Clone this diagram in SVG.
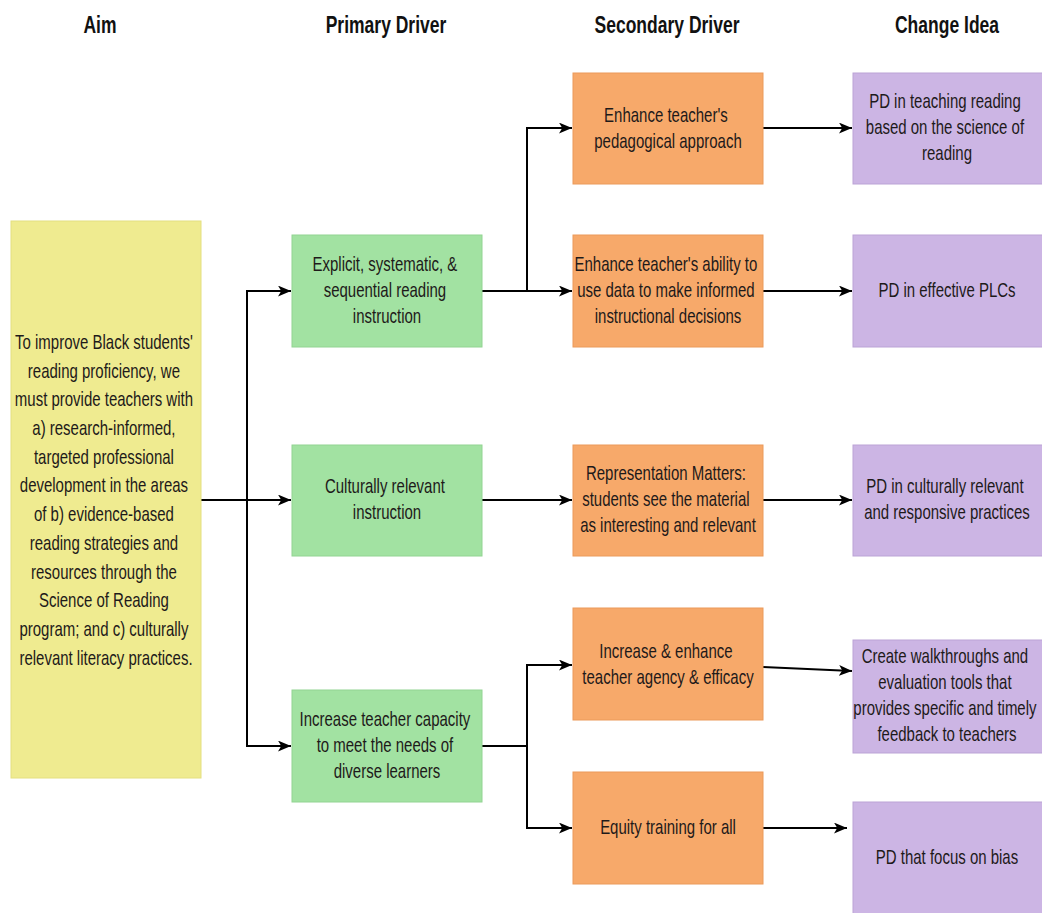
<svg xmlns="http://www.w3.org/2000/svg" width="1042" height="913" viewBox="0 0 1042 913">
  <style>
    .hdr { font-family: "Liberation Sans", Arial, sans-serif; font-size: 23.5px; font-weight: bold; fill: #111; text-anchor: middle; }
    .t { font-family: "Liberation Sans", Arial, sans-serif; font-size: 20px; fill: #1e1a1a; text-anchor: middle; }
    .aim { fill: #efeb90; stroke: #e4df80; stroke-width: 1; }
    .pri { fill: #a2e2a2; stroke: #92d492; stroke-width: 1; }
    .sec { fill: #f7a96a; stroke: #eb9a5b; stroke-width: 1; }
    .chg { fill: #ccb5e4; stroke: #bba3d6; stroke-width: 1; }
    .conn { fill: none; stroke: #000; stroke-width: 2; }
  </style>
  <defs>
    <marker id="arrow" viewBox="0 0 12 10" refX="12" refY="5" markerWidth="13" markerHeight="11" markerUnits="userSpaceOnUse" orient="auto">
      <path d="M0,0 L12,5 L0,10 L3,5 z" fill="#000"/>
    </marker>
  </defs>
  <rect width="1042" height="913" fill="#fff"/>

  <!-- column headings (condensed lettering) -->
  <g id="headings">
    <text class="hdr" transform="translate(100,0) scale(0.745,1)" x="0" y="33">Aim</text>
    <text class="hdr" transform="translate(386,0) scale(0.745,1)" x="0" y="33">Primary Driver</text>
    <text class="hdr" transform="translate(667,0) scale(0.745,1)" x="0" y="33">Secondary Driver</text>
    <text class="hdr" transform="translate(947,0) scale(0.745,1)" x="0" y="33">Change Idea</text>
  </g>

  <!-- connectors -->
  <g id="connectors">
    <path class="conn" d="M201,500 H291" marker-end="url(#arrow)"/>
    <path class="conn" d="M247,500 V291 H291" marker-end="url(#arrow)"/>
    <path class="conn" d="M247,500 V746 H291" marker-end="url(#arrow)"/>

    <path class="conn" d="M482,291 H572" marker-end="url(#arrow)"/>
    <path class="conn" d="M527,291 V128 H572" marker-end="url(#arrow)"/>
    <path class="conn" d="M482,500 H572" marker-end="url(#arrow)"/>
    <path class="conn" d="M482,746 H527 V665 H572" marker-end="url(#arrow)"/>
    <path class="conn" d="M527,746 V828 H572" marker-end="url(#arrow)"/>

    <path class="conn" d="M763,128 H852" marker-end="url(#arrow)"/>
    <path class="conn" d="M763,291 H852" marker-end="url(#arrow)"/>
    <path class="conn" d="M763,500 H852" marker-end="url(#arrow)"/>
    <path class="conn" d="M763,667 L852,671" marker-end="url(#arrow)"/>
    <path class="conn" d="M763,828 H847" marker-end="url(#arrow)"/>
  </g>

  <!-- aim -->
  <g id="aim">
    <rect class="aim" x="11" y="221" width="190" height="557"/>
    <text class="t" transform="translate(106,0) scale(0.75,1)">
      <tspan x="0" y="349">To improve Black students'</tspan>
      <tspan x="0" y="377.7">reading proficiency, we</tspan>
      <tspan x="0" y="406.4">must provide teachers with</tspan>
      <tspan x="0" y="435.1">a) research-informed,</tspan>
      <tspan x="0" y="463.8">targeted professional</tspan>
      <tspan x="0" y="492.5">development in the areas</tspan>
      <tspan x="0" y="521.2">of b) evidence-based</tspan>
      <tspan x="0" y="549.9">reading strategies and</tspan>
      <tspan x="0" y="578.6">resources through the</tspan>
      <tspan x="0" y="607.3">Science of Reading</tspan>
      <tspan x="0" y="636">program; and c) culturally</tspan>
      <tspan x="0" y="664.7">relevant literacy practices.</tspan>
    </text>
  </g>

  <!-- primary drivers -->
  <g id="primary-1">
    <rect class="pri" x="292" y="235" width="190" height="112"/>
    <text class="t" transform="translate(387,0) scale(0.75,1)">
      <tspan x="0" y="271">Explicit, systematic, &amp;</tspan>
      <tspan x="0" y="297">sequential reading</tspan>
      <tspan x="0" y="323">instruction</tspan>
    </text>
  </g>
  <g id="primary-2">
    <rect class="pri" x="292" y="445" width="190" height="111"/>
    <text class="t" transform="translate(387,0) scale(0.75,1)">
      <tspan x="0" y="493">Culturally relevant</tspan>
      <tspan x="0" y="519">instruction</tspan>
    </text>
  </g>
  <g id="primary-3">
    <rect class="pri" x="292" y="690" width="190" height="112"/>
    <text class="t" transform="translate(387,0) scale(0.75,1)">
      <tspan x="0" y="726">Increase teacher capacity</tspan>
      <tspan x="0" y="752">to meet the needs of</tspan>
      <tspan x="0" y="778">diverse learners</tspan>
    </text>
  </g>

  <!-- secondary drivers -->
  <g id="secondary-1">
    <rect class="sec" x="573" y="73" width="190" height="111"/>
    <text class="t" transform="translate(668,0) scale(0.75,1)">
      <tspan x="0" y="122">Enhance teacher's</tspan>
      <tspan x="0" y="148">pedagogical approach</tspan>
    </text>
  </g>
  <g id="secondary-2">
    <rect class="sec" x="573" y="235" width="190" height="112"/>
    <text class="t" transform="translate(668,0) scale(0.75,1)">
      <tspan x="0" y="271">Enhance teacher's ability to</tspan>
      <tspan x="0" y="297">use data to make informed</tspan>
      <tspan x="0" y="323">instructional decisions</tspan>
    </text>
  </g>
  <g id="secondary-3">
    <rect class="sec" x="573" y="445" width="190" height="111"/>
    <text class="t" transform="translate(668,0) scale(0.75,1)">
      <tspan x="0" y="480">Representation Matters:</tspan>
      <tspan x="0" y="506">students see the material</tspan>
      <tspan x="0" y="532">as interesting and relevant</tspan>
    </text>
  </g>
  <g id="secondary-4">
    <rect class="sec" x="573" y="608" width="190" height="112"/>
    <text class="t" transform="translate(668,0) scale(0.75,1)">
      <tspan x="0" y="658">Increase &amp; enhance</tspan>
      <tspan x="0" y="684">teacher agency &amp; efficacy</tspan>
    </text>
  </g>
  <g id="secondary-5">
    <rect class="sec" x="573" y="772" width="190" height="112"/>
    <text class="t" transform="translate(668,0) scale(0.75,1)">
      <tspan x="0" y="834">Equity training for all</tspan>
    </text>
  </g>

  <!-- change ideas -->
  <g id="change-1">
    <rect class="chg" x="853" y="73" width="190" height="111"/>
    <text class="t" transform="translate(947,0) scale(0.75,1)">
      <tspan x="0" y="108">PD in teaching reading</tspan>
      <tspan x="0" y="134">based on the science of</tspan>
      <tspan x="0" y="160">reading</tspan>
    </text>
  </g>
  <g id="change-2">
    <rect class="chg" x="853" y="235" width="190" height="112"/>
    <text class="t" transform="translate(947,0) scale(0.75,1)">
      <tspan x="0" y="297">PD in effective PLCs</tspan>
    </text>
  </g>
  <g id="change-3">
    <rect class="chg" x="853" y="445" width="190" height="111"/>
    <text class="t" transform="translate(947,0) scale(0.75,1)">
      <tspan x="0" y="493">PD in culturally relevant</tspan>
      <tspan x="0" y="519">and responsive practices</tspan>
    </text>
  </g>
  <g id="change-4">
    <rect class="chg" x="853" y="640" width="190" height="113"/>
    <text class="t" transform="translate(947,0) scale(0.75,1)">
      <tspan x="0" y="663">Create walkthroughs and</tspan>
      <tspan x="0" y="689">evaluation tools that</tspan>
      <tspan x="0" y="715">provides specific and timely</tspan>
      <tspan x="0" y="741">feedback to teachers</tspan>
    </text>
  </g>
  <g id="change-5">
    <rect class="chg" x="853" y="802" width="190" height="112"/>
    <text class="t" transform="translate(947,0) scale(0.75,1)">
      <tspan x="0" y="864">PD that focus on bias</tspan>
    </text>
  </g>
</svg>
